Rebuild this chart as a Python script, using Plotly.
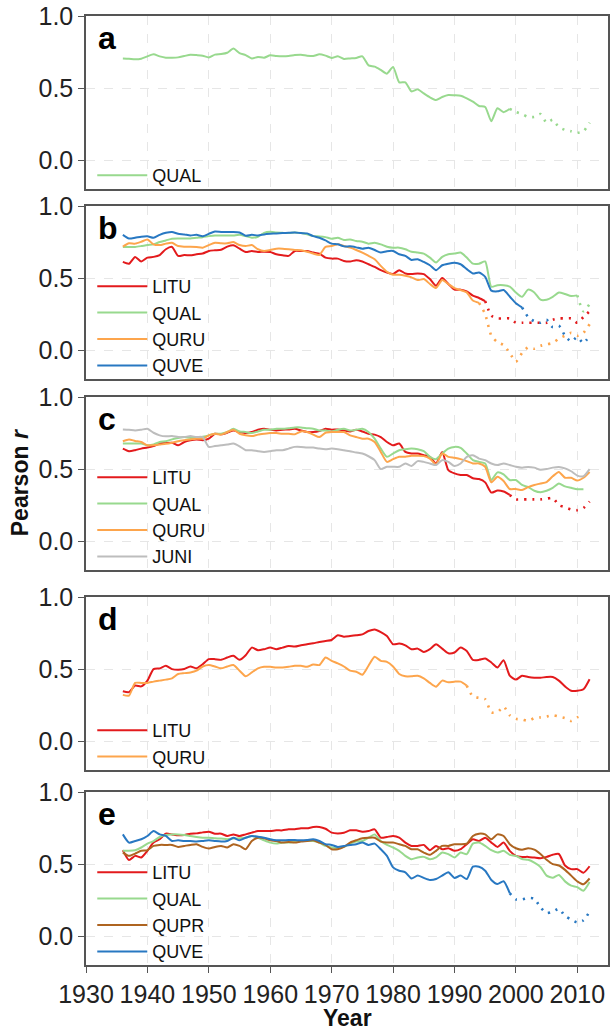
import plotly.graph_objects as go

START = 1936

# ---- Panel a ----
a_QUAL = [0.706, 0.704, 0.70, 0.704,
          0.72, 0.734, 0.72, 0.711, 0.711, 0.713, 0.722, 0.732, 0.729, 0.725,
          0.713, 0.732, 0.736, 0.745, 0.775, 0.743, 0.729, 0.706, 0.716, 0.711,
          0.727, 0.722, 0.72, 0.722, 0.729, 0.732, 0.725, 0.722, 0.734, 0.725,
          0.709, 0.72, 0.702, 0.706, 0.709, 0.72, 0.658, 0.649, 0.626, 0.60,
          0.647, 0.54, 0.54, 0.477, 0.491, 0.463, 0.436, 0.417, 0.438, 0.452,
          0.45, 0.447, 0.429, 0.406, 0.376, 0.369, 0.27, 0.36, 0.333, 0.356,
          0.335, 0.32, 0.30, 0.30, 0.32, 0.26, 0.28, 0.23, 0.21, 0.20,
          0.19, 0.20, 0.26]

# ---- Panel b ----
b_LITU = [0.612, 0.60, 0.647, 0.615,
          0.642, 0.647, 0.66, 0.70, 0.716, 0.654, 0.66, 0.658, 0.665, 0.67,
          0.688, 0.693, 0.697, 0.718, 0.727, 0.704, 0.681, 0.688, 0.681, 0.683,
          0.681, 0.665, 0.658, 0.654, 0.688, 0.688, 0.688, 0.677, 0.67, 0.642,
          0.635, 0.635, 0.619, 0.615, 0.624, 0.615, 0.596, 0.578, 0.555, 0.539,
          0.528, 0.555, 0.532, 0.528, 0.532, 0.528, 0.493, 0.447, 0.50, 0.459,
          0.42, 0.42, 0.408, 0.378, 0.362, 0.34, 0.24, 0.22, 0.22, 0.22,
          0.19, 0.19, 0.19, 0.19, 0.19, 0.19, 0.21, 0.22, 0.22, 0.22,
          0.19, 0.23, 0.27]
b_QUAL = [0.716, 0.716, 0.716, 0.722,
          0.729, 0.734, 0.75, 0.761, 0.773, 0.775, 0.775, 0.775, 0.78, 0.784,
          0.791, 0.796, 0.796, 0.796, 0.796, 0.80, 0.791, 0.78, 0.787, 0.814,
          0.821, 0.816, 0.814, 0.812, 0.816, 0.812, 0.803, 0.791, 0.789, 0.784,
          0.773, 0.78, 0.764, 0.768, 0.757, 0.752, 0.739, 0.745, 0.734, 0.718,
          0.711, 0.711, 0.70, 0.683, 0.677, 0.67, 0.642, 0.608, 0.647, 0.665,
          0.67, 0.677, 0.642, 0.60, 0.60, 0.615, 0.44, 0.45, 0.45, 0.44,
          0.40, 0.37, 0.42, 0.40, 0.35, 0.35, 0.37, 0.40, 0.39, 0.375,
          0.38, 0.27, 0.32]
b_QURU = [0.718, 0.741, 0.739, 0.752,
          0.768, 0.734, 0.729, 0.739, 0.745, 0.722, 0.718, 0.718, 0.716, 0.711,
          0.729, 0.745, 0.741, 0.741, 0.75, 0.729, 0.722, 0.729, 0.70, 0.688,
          0.695, 0.704, 0.704, 0.70, 0.695, 0.693, 0.683, 0.67, 0.66, 0.716,
          0.722, 0.734, 0.722, 0.711, 0.695, 0.677, 0.654, 0.631, 0.585, 0.544,
          0.523, 0.523, 0.516, 0.505, 0.486, 0.493, 0.459, 0.431, 0.486, 0.459,
          0.431, 0.417, 0.401, 0.344, 0.328, 0.25, 0.10, 0.055, 0.035, -0.02,
          -0.08, -0.02, 0.02, 0.01, 0.03, 0.04, 0.05, 0.08, 0.10, 0.12,
          0.10, 0.12, 0.18]
b_QUVE = [0.80, 0.775, 0.78, 0.787,
          0.79, 0.78, 0.80, 0.814, 0.82, 0.807, 0.803, 0.796, 0.80, 0.79,
          0.807, 0.823, 0.82, 0.819, 0.82, 0.816, 0.794, 0.80, 0.796, 0.803,
          0.807, 0.81, 0.812, 0.814, 0.816, 0.812, 0.81, 0.791, 0.78, 0.761,
          0.739, 0.734, 0.72, 0.72, 0.713, 0.704, 0.711, 0.695, 0.677, 0.686,
          0.688, 0.665, 0.654, 0.626, 0.631, 0.612, 0.589, 0.555, 0.589, 0.60,
          0.606, 0.596, 0.562, 0.532, 0.539, 0.509, 0.413, 0.408, 0.417, 0.372,
          0.326, 0.297, 0.23, 0.20, 0.19, 0.21, 0.16, 0.17, 0.10, 0.06,
          0.09, 0.05, 0.10]

# ---- Panel c ----
c_LITU = [0.642, 0.624, 0.631, 0.642,
          0.649, 0.66, 0.677, 0.681, 0.683, 0.665, 0.688, 0.70, 0.706, 0.70,
          0.711, 0.745, 0.741, 0.752, 0.768, 0.757, 0.75, 0.757, 0.773, 0.78,
          0.773, 0.768, 0.773, 0.775, 0.78, 0.768, 0.757, 0.757, 0.764, 0.78,
          0.773, 0.775, 0.768, 0.761, 0.773, 0.761, 0.745, 0.739, 0.722, 0.688,
          0.665, 0.677, 0.619, 0.608, 0.608, 0.596, 0.585, 0.539, 0.619, 0.493,
          0.47, 0.459, 0.459, 0.436, 0.431, 0.408, 0.337, 0.351, 0.344, 0.321,
          0.29, 0.29, 0.29, 0.29, 0.29, 0.295, 0.30, 0.25, 0.235, 0.22,
          0.215, 0.23, 0.275]
c_QUAL = [0.677, 0.677, 0.677, 0.677,
          0.665, 0.67, 0.688, 0.693, 0.706, 0.716, 0.722, 0.716, 0.718, 0.725,
          0.734, 0.745, 0.745, 0.757, 0.78, 0.761, 0.757, 0.75, 0.761, 0.773,
          0.773, 0.78, 0.78, 0.784, 0.789, 0.789, 0.784, 0.78, 0.768, 0.768,
          0.761, 0.773, 0.78, 0.768, 0.773, 0.78, 0.757, 0.711, 0.642, 0.585,
          0.608, 0.631, 0.638, 0.642, 0.638, 0.624, 0.585, 0.569, 0.608, 0.642,
          0.654, 0.647, 0.608, 0.562, 0.55, 0.539, 0.424, 0.477, 0.463, 0.424,
          0.424, 0.39, 0.375, 0.35, 0.34, 0.35, 0.37, 0.40, 0.38, 0.37,
          0.36, 0.36]
c_QURU = [0.693, 0.706, 0.695, 0.688,
          0.665, 0.665, 0.67, 0.675, 0.683, 0.693, 0.70, 0.706, 0.711, 0.711,
          0.734, 0.745, 0.739, 0.757, 0.773, 0.745, 0.734, 0.729, 0.739, 0.745,
          0.75, 0.75, 0.745, 0.745, 0.741, 0.761, 0.757, 0.739, 0.722, 0.752,
          0.757, 0.757, 0.757, 0.734, 0.722, 0.711, 0.711, 0.688, 0.619, 0.55,
          0.569, 0.585, 0.585, 0.592, 0.592, 0.59, 0.573, 0.532, 0.608, 0.585,
          0.578, 0.569, 0.555, 0.539, 0.539, 0.516, 0.408, 0.447, 0.417, 0.362,
          0.362, 0.355, 0.375, 0.39, 0.40, 0.41, 0.45, 0.48, 0.44, 0.44,
          0.42, 0.44, 0.48]
c_JUNI = [0.775, 0.773, 0.768, 0.773,
          0.78, 0.752, 0.734, 0.727, 0.729, 0.722, 0.722, 0.729, 0.722, 0.722,
          0.654, 0.66, 0.665, 0.67, 0.677, 0.658, 0.631, 0.631, 0.624, 0.619,
          0.624, 0.631, 0.631, 0.642, 0.654, 0.654, 0.649, 0.649, 0.642, 0.638,
          0.642, 0.638, 0.631, 0.624, 0.615, 0.608, 0.589, 0.562, 0.50, 0.516,
          0.516, 0.516, 0.539, 0.521, 0.555, 0.55, 0.539, 0.528, 0.562, 0.55,
          0.521, 0.539, 0.585, 0.596, 0.573, 0.562, 0.539, 0.528, 0.539, 0.528,
          0.516, 0.51, 0.515, 0.51, 0.495, 0.50, 0.51, 0.515, 0.505, 0.485,
          0.455, 0.45, 0.50]

# ---- Panel d ----
d_LITU = [0.346, 0.34, 0.385, 0.38,
          0.42, 0.50, 0.505, 0.523, 0.50, 0.495, 0.50, 0.518, 0.505, 0.534,
          0.569, 0.569, 0.564, 0.58, 0.592, 0.564, 0.596, 0.649, 0.631, 0.638,
          0.649, 0.638, 0.649, 0.66, 0.656, 0.665, 0.672, 0.679, 0.688, 0.695,
          0.702, 0.734, 0.725, 0.729, 0.734, 0.741, 0.764, 0.775, 0.757, 0.729,
          0.672, 0.677, 0.665, 0.638, 0.642, 0.619, 0.638, 0.672, 0.642, 0.61,
          0.615, 0.649, 0.626, 0.564, 0.564, 0.573, 0.546, 0.511, 0.562, 0.454,
          0.427, 0.454, 0.445, 0.44, 0.44, 0.445, 0.445, 0.42, 0.38, 0.35,
          0.35, 0.36, 0.43]
d_QURU = [0.321, 0.316, 0.404, 0.404,
          0.404, 0.413, 0.42, 0.427, 0.436, 0.466, 0.472, 0.477, 0.489, 0.518,
          0.528, 0.518, 0.505, 0.518, 0.528, 0.489, 0.45, 0.477, 0.505, 0.516,
          0.516, 0.511, 0.511, 0.516, 0.523, 0.523, 0.516, 0.532, 0.528, 0.58,
          0.557, 0.539, 0.518, 0.489, 0.482, 0.461, 0.523, 0.585, 0.557, 0.55,
          0.518, 0.466, 0.45, 0.45, 0.454, 0.436, 0.404, 0.378, 0.42, 0.408,
          0.413, 0.413, 0.385, 0.31, 0.30, 0.29, 0.20, 0.20, 0.24, 0.18,
          0.155, 0.15, 0.14, 0.16, 0.165, 0.17, 0.18, 0.17, 0.16, 0.14,
          0.165, 0.18]

# ---- Panel e ----
e_LITU = [0.596, 0.528, 0.557, 0.546,
          0.592, 0.649, 0.672, 0.711, 0.706, 0.70, 0.702, 0.711, 0.713, 0.72,
          0.725, 0.711, 0.711, 0.695, 0.706, 0.695, 0.706, 0.718, 0.729, 0.729,
          0.729, 0.734, 0.734, 0.741, 0.741, 0.748, 0.748, 0.757, 0.757, 0.745,
          0.718, 0.713, 0.718, 0.734, 0.734, 0.725, 0.729, 0.741, 0.683, 0.688,
          0.695, 0.683, 0.649, 0.626, 0.626, 0.633, 0.596, 0.626, 0.603, 0.61,
          0.592, 0.603, 0.638, 0.672, 0.66, 0.683, 0.649, 0.619, 0.649, 0.592,
          0.557, 0.55, 0.55, 0.545, 0.54, 0.55, 0.565, 0.57, 0.49, 0.465,
          0.465, 0.44, 0.485]
e_QUAL = [0.592, 0.592, 0.596, 0.615,
          0.642, 0.66, 0.688, 0.702, 0.706, 0.706, 0.702, 0.695, 0.688, 0.683,
          0.683, 0.679, 0.677, 0.672, 0.677, 0.679, 0.683, 0.695, 0.683, 0.665,
          0.649, 0.642, 0.649, 0.649, 0.654, 0.66, 0.66, 0.66, 0.649, 0.626,
          0.615, 0.61, 0.619, 0.642, 0.656, 0.66, 0.683, 0.706, 0.66, 0.633,
          0.615, 0.592, 0.557, 0.534, 0.546, 0.55, 0.534, 0.546, 0.58, 0.569,
          0.546, 0.58, 0.569, 0.642, 0.649, 0.626, 0.596, 0.58, 0.592, 0.564,
          0.557, 0.535, 0.53, 0.51, 0.48, 0.42, 0.405, 0.425, 0.38, 0.35,
          0.34, 0.315, 0.375]
e_QUPR = [0.58, 0.557, 0.573, 0.592,
          0.596, 0.626, 0.633, 0.633, 0.633, 0.619, 0.626, 0.633, 0.638, 0.619,
          0.608, 0.619, 0.626, 0.615, 0.638, 0.626, 0.603, 0.66, 0.683, 0.679,
          0.665, 0.66, 0.649, 0.654, 0.649, 0.656, 0.66, 0.665, 0.649, 0.633,
          0.603, 0.603, 0.619, 0.649, 0.665, 0.679, 0.683, 0.683, 0.656, 0.649,
          0.649, 0.638, 0.626, 0.603, 0.603, 0.58, 0.564, 0.592, 0.626, 0.626,
          0.638, 0.638, 0.642, 0.695, 0.711, 0.706, 0.672, 0.706, 0.695, 0.638,
          0.61, 0.60, 0.61, 0.60, 0.57, 0.53, 0.50, 0.49, 0.46, 0.42,
          0.38, 0.36, 0.40]
e_QUVE = [0.706, 0.649, 0.66, 0.672,
          0.695, 0.729, 0.706, 0.695, 0.66, 0.665, 0.66, 0.66, 0.656, 0.66,
          0.665, 0.66, 0.656, 0.66, 0.683, 0.665, 0.683, 0.695, 0.69, 0.683,
          0.672, 0.665, 0.665, 0.667, 0.667, 0.665, 0.667, 0.672, 0.66, 0.638,
          0.633, 0.619, 0.626, 0.633, 0.638, 0.649, 0.633, 0.642, 0.603, 0.557,
          0.477, 0.454, 0.443, 0.40, 0.42, 0.404, 0.39, 0.397, 0.42, 0.443,
          0.404, 0.42, 0.397, 0.482, 0.482, 0.454, 0.39, 0.362, 0.381, 0.298,
          0.255, 0.255, 0.265, 0.26, 0.20, 0.16, 0.17, 0.19, 0.14, 0.115,
          0.095, 0.11, 0.17]

# panel -> list of (species, values, last year drawn solid)
panels = [
    ("a", [("QUAL", a_QUAL, 1999)]),
    ("b", [("LITU", b_LITU, 1995), ("QUAL", b_QUAL, 2010),
           ("QURU", b_QURU, 1994), ("QUVE", b_QUVE, 2001)]),
    ("c", [("LITU", c_LITU, 1999), ("QUAL", c_QUAL, 2011),
           ("QURU", c_QURU, 2012), ("JUNI", c_JUNI, 2012)]),
    ("d", [("LITU", d_LITU, 2012), ("QURU", d_QURU, 1992)]),
    ("e", [("LITU", e_LITU, 2012), ("QUAL", e_QUAL, 2012),
           ("QUPR", e_QUPR, 2012), ("QUVE", e_QUVE, 1999)]),
]

colors = {"LITU": "#E31A1C", "QUAL": "#98D98E", "QURU": "#FDA54C",
          "QUVE": "#2878C2", "JUNI": "#BDBDBD", "QUPR": "#AE6420"}

# layout geometry (pixels)
W, H = 612, 1031
L, R, T, B = 86, 2, 16, 66
PH = H - T - B
tops = [16, 206, 397, 597, 792]
bots = [189, 379, 570, 770, 965]


def py(px):
    return 1 - (px - T) / PH


FONT = "Liberation Sans, Arial, Helvetica, sans-serif"
fig = go.Figure()

for i, (letter, series) in enumerate(panels):
    n = i + 1
    xa = "x" if n == 1 else f"x{n}"
    ya = "y" if n == 1 else f"y{n}"
    lg = "legend" if n == 1 else f"legend{n}"
    for name, vals, solid_end in series:
        years = list(range(START, START + len(vals)))
        sx = [y for y in years if y <= solid_end]
        sy = vals[:len(sx)]
        fig.add_trace(go.Scatter(
            x=sx, y=sy, mode="lines", name=name, xaxis=xa, yaxis=ya, legend=lg,
            line=dict(color=colors[name], width=2, shape="spline", smoothing=0.6),
            hoverinfo="skip"))
        if solid_end < years[-1]:
            k = len(sx) - 1
            fig.add_trace(go.Scatter(
                x=years[k:], y=vals[k:], mode="lines", name=name, xaxis=xa,
                yaxis=ya, showlegend=False,
                line=dict(color=colors[name], width=2.6, dash="2px,6px",
                          shape="spline", smoothing=0.6),
                hoverinfo="skip"))

    dom = [py(bots[i]), py(tops[i])]
    xkey = "xaxis" if n == 1 else f"xaxis{n}"
    ykey = "yaxis" if n == 1 else f"yaxis{n}"
    fig.layout[xkey] = dict(
        domain=[0, 1], anchor=ya, range=[1930, 2015],
        tickvals=[1930, 1940, 1950, 1960, 1970, 1980, 1990, 2000, 2010],
        showticklabels=(n == 5), ticks="outside" if n == 5 else "",
        ticklen=6, tickcolor="#555", tickwidth=1.3,
        showgrid=True, gridcolor="#E6E6E6", griddash="dash", gridwidth=1,
        showline=True, linecolor="#555", linewidth=1.5, mirror=True,
        zeroline=False, tickfont=dict(family=FONT, size=25, color="#222"))
    fig.layout[ykey] = dict(
        domain=dom, anchor=xa, range=[-0.2, 1.0],
        tickvals=[0, 0.5, 1.0], ticktext=["0.0", "0.5", "1.0"],
        ticks="outside", ticklen=6, tickcolor="#555", tickwidth=1.3,
        showgrid=True, gridcolor="#E6E6E6", griddash="dash", gridwidth=1,
        showline=True, linecolor="#555", linewidth=1.5, mirror=True,
        zeroline=False, tickfont=dict(family=FONT, size=25, color="#222"))
    fig.layout[lg] = dict(
        x=0.012, y=py(bots[i] + 5), xanchor="left", yanchor="bottom",
        xref="paper", yref="paper", bgcolor="rgba(0,0,0,0)", borderwidth=0,
        itemwidth=50,
        font=dict(family=FONT, size=18, color="#111"), tracegroupgap=0)
    fig.add_annotation(
        text=f"<b>{letter}</b>", xref="paper", yref="paper",
        x=(96 - L) / (W - L - R), y=py(tops[i] + 22), xanchor="left",
        yanchor="middle", showarrow=False,
        font=dict(family=FONT, size=32, color="#000"))

fig.add_annotation(text="<b>Pearson <i>r</i></b>", xref="paper", yref="paper",
                   x=(20 - L) / (W - L - R), y=py(483), textangle=-90,
                   showarrow=False, xanchor="center", yanchor="middle",
                   font=dict(family=FONT, size=23, color="#111"))
fig.add_annotation(text="<b>Year</b>", xref="paper", yref="paper",
                   x=0.5, y=py(1018), showarrow=False, xanchor="center",
                   yanchor="middle", font=dict(family=FONT, size=23, color="#111"))

fig.update_layout(width=W, height=H, margin=dict(l=L, r=R, t=T, b=B),
                  paper_bgcolor="white", plot_bgcolor="white",
                  font=dict(family=FONT))
fig.write_html("out.html")
